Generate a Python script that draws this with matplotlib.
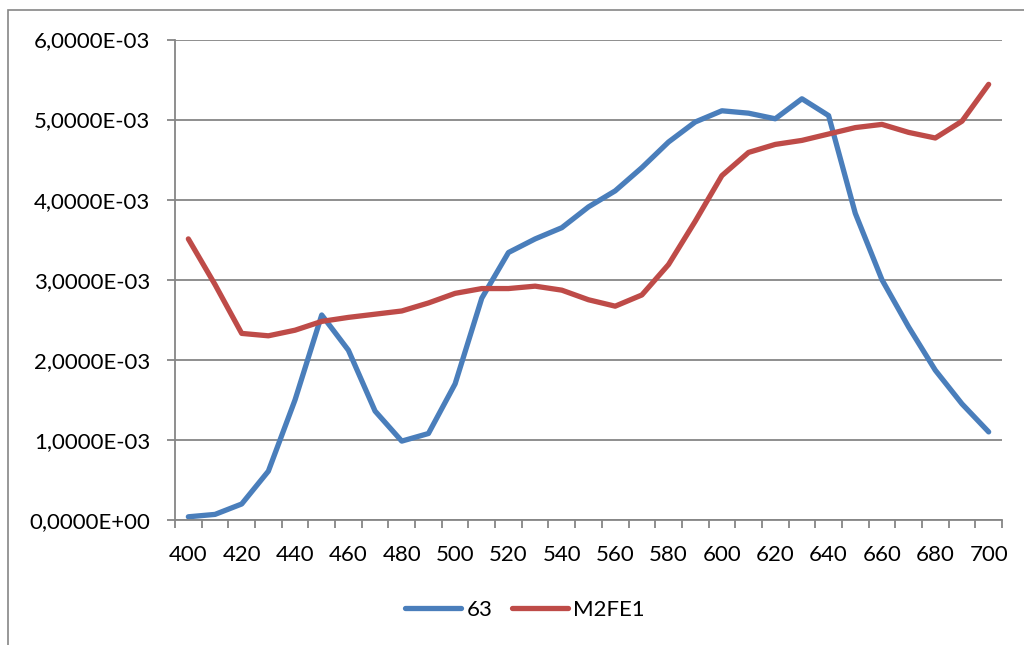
import matplotlib
matplotlib.use('Agg')
import matplotlib.pyplot as plt
from matplotlib.patches import Rectangle
import numpy as np

plt.rcParams['font.family'] = ['Lato', 'DejaVu Sans']

wavelengths = list(range(400, 701, 10))
series_63 = [0.04, 0.07, 0.20, 0.61, 1.50, 2.56, 2.12, 1.36, 0.985, 1.08, 1.70,
             2.77, 3.34, 3.51, 3.65, 3.91, 4.11, 4.40, 4.72, 4.97, 5.11,
             5.08, 5.01, 5.26, 5.05, 3.83, 3.00, 2.41, 1.87, 1.45, 1.10]
series_m2fe1 = [3.51, 2.94, 2.33, 2.30, 2.37, 2.48, 2.53, 2.57, 2.61, 2.71, 2.83,
                2.89, 2.89, 2.92, 2.87, 2.75, 2.67, 2.81, 3.19, 3.73, 4.30,
                4.59, 4.69, 4.74, 4.82, 4.90, 4.94, 4.84, 4.77, 4.98, 5.44]
labels = ['63', 'M2FE1']
colors = ['#4A7EBB', '#BE4B48']
y_ticks = [0, 1e-3, 2e-3, 3e-3, 4e-3, 5e-3, 6e-3]

W, H = 1024, 645
fig = plt.figure(figsize=(W / 100, H / 100), dpi=100)
ax = fig.add_axes([175 / W, (H - 520) / H, (1002 - 175) / W, (520 - 39.5) / H])

grey = '#868686'
idx = np.arange(len(wavelengths))
for vals, lab, col in zip([series_63, series_m2fe1], labels, colors):
  ax.plot(idx, np.array(vals) * 1e-3, color=col, lw=3.8, label=lab,
          solid_capstyle='round', solid_joinstyle='round')

ax.set_xlim(-0.5, len(wavelengths) - 0.5)
ax.set_ylim(0, 6e-3)

# category axis: labels every other category, tick marks between categories
ax.set_xticks(idx[::2])
ax.set_xticklabels([str(w) for w in wavelengths[::2]])
ax.set_xticks(np.arange(-0.5, len(wavelengths)), minor=True)
ax.tick_params(axis='x', which='major', length=0, pad=18, labelsize=16)
ax.tick_params(axis='x', which='minor', length=6, width=1.3, color=grey)

ax.set_yticks(y_ticks)
ax.set_yticklabels([f'{v:.4E}'.replace('.', ',') for v in y_ticks])
ax.tick_params(axis='y', length=6, width=1.3, color=grey, pad=12, labelsize=16)

ax.grid(axis='y', color=grey, lw=1.3)
ax.set_axisbelow(True)
for side in ['top', 'right']:
  ax.spines[side].set_visible(False)
for side in ['left', 'bottom']:
  ax.spines[side].set_color(grey)
  ax.spines[side].set_linewidth(1.3)

fig.legend(loc='center', bbox_to_anchor=(525 / W, 1 - 610 / H), ncol=2, frameon=False,
           fontsize=16, handlelength=2.5, handletextpad=0.25, columnspacing=0.9)

# chart frame
fig.patches.append(Rectangle((8 / W, -0.1), 1.2, 1.1 - 10 / H, transform=fig.transFigure,
                             fill=False, edgecolor=grey, lw=1.2))

fig.savefig('out.png', dpi=100)
